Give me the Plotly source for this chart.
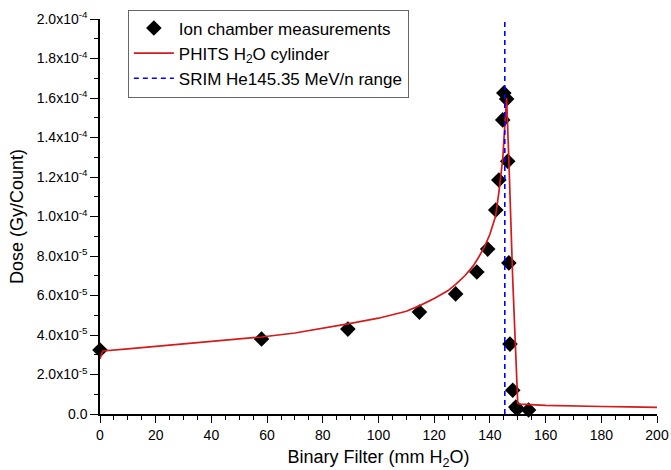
import plotly.graph_objects as go

# Measurements
meas_x = [0, 58, 89, 114.7, 127.7, 135.3, 139.2, 142.1, 143.2, 144.6, 145.0, 146.0,
          146.4, 146.8, 147.2, 148.2, 149.3, 149.8, 153.9]
meas_y = [3.24e-5, 3.8e-5, 4.3e-5, 5.16e-5, 6.08e-5, 7.19e-5, 8.35e-5, 1.033e-4,
          1.185e-4, 1.489e-4, 1.625e-4, 1.595e-4, 1.28e-4, 7.65e-5, 3.54e-5,
          1.2e-5, 3.5e-6, 2.5e-6, 2.0e-6]

# PHITS simulation
phits_x = [0, 1, 10, 20, 30, 40, 50, 58, 70, 80, 89, 100, 110, 115, 120, 125, 128,
           131, 134, 136, 138, 140, 142, 143.2, 144.6, 145.3, 146, 146.8, 148.2,
           150, 151, 160, 170, 180, 190, 200]
phits_y = [2.8e-5, 3.19e-5, 3.3e-5, 3.42e-5, 3.55e-5, 3.68e-5, 3.8e-5, 3.9e-5,
           4.1e-5, 4.33e-5, 4.56e-5, 4.85e-5, 5.2e-5, 5.5e-5, 5.85e-5, 6.25e-5,
           6.6e-5, 7.0e-5, 7.5e-5, 7.95e-5, 8.45e-5, 9.1e-5, 1.0e-4, 1.12e-4,
           1.29e-4, 1.45e-4, 1.6e-4, 1.29e-4, 6.8e-5, 5.4e-6, 5.0e-6, 4.4e-6,
           4.0e-6, 3.8e-6, 3.6e-6, 3.4e-6]

# SRIM range
srim_range = 145.35
y_max = 2.0e-4

y_tickvals = [0, 2e-5, 4e-5, 6e-5, 8e-5, 1e-4, 1.2e-4, 1.4e-4, 1.6e-4, 1.8e-4, 2e-4]
y_ticktext = ["0.0", "2.0x10<sup>-5</sup>", "4.0x10<sup>-5</sup>", "6.0x10<sup>-5</sup>",
              "8.0x10<sup>-5</sup>", "1.0x10<sup>-4</sup>", "1.2x10<sup>-4</sup>",
              "1.4x10<sup>-4</sup>", "1.6x10<sup>-4</sup>", "1.8x10<sup>-4</sup>",
              "2.0x10<sup>-4</sup>"]

fig = go.Figure()
fig.add_trace(go.Scatter(x=meas_x, y=meas_y, mode="markers",
                         name="Ion chamber measurements",
                         marker=dict(symbol="diamond", size=12, color="black"),
                         cliponaxis=False))
fig.add_trace(go.Scatter(x=phits_x, y=phits_y, mode="lines",
                         name="PHITS H<sub>2</sub>O cylinder",
                         line=dict(color="#d41a1a", width=1.7)))
fig.add_trace(go.Scatter(x=[srim_range, srim_range], y=[0, y_max], mode="lines",
                         name="SRIM He145.35 MeV/n range",
                         line=dict(color="#0000ff", width=1.6, dash="5px,4px")))

fig.update_layout(
    width=671, height=470,
    margin=dict(l=100, r=14, t=19, b=56, autoexpand=False),
    paper_bgcolor="white", plot_bgcolor="white",
    font=dict(family="Liberation Sans, Arial, sans-serif", size=14, color="black"),
    showlegend=True,
    legend=dict(x=0.05, y=1.024, xanchor="left", yanchor="top",
                bordercolor="#666666", borderwidth=1, bgcolor="white",
                font=dict(size=17), tracegroupgap=0, itemwidth=40),
)
fig.update_xaxes(range=[0, 200], tickvals=list(range(0, 201, 20)), automargin=False,
                 ticks="outside", ticklen=7, tickwidth=1.2, tickcolor="black",
                 minor=dict(dtick=5, ticks="outside", ticklen=4, tickcolor="black", tickwidth=1),
                 showline=True, linecolor="black", linewidth=1.5, showgrid=False,
                 zeroline=False, tickfont=dict(size=14),
                 title=dict(text="Binary Filter (mm H<sub>2</sub>O)", font=dict(size=18), standoff=10))
fig.update_yaxes(range=[0, y_max], tickvals=y_tickvals, ticktext=y_ticktext, automargin=False,
                 ticks="outside", ticklen=8, tickwidth=1.2, tickcolor="black",
                 minor=dict(dtick=1e-5, ticks="outside", ticklen=4, tickcolor="black", tickwidth=1),
                 showline=True, linecolor="black", linewidth=1.5, showgrid=False,
                 zeroline=False, tickfont=dict(size=14),
                 title=dict(text="Dose (Gy/Count)", font=dict(size=18), standoff=8))

fig.write_html("out.html", config={"displayModeBar": False},
               post_script="document.body.style.margin='0';document.body.style.padding='0';")
